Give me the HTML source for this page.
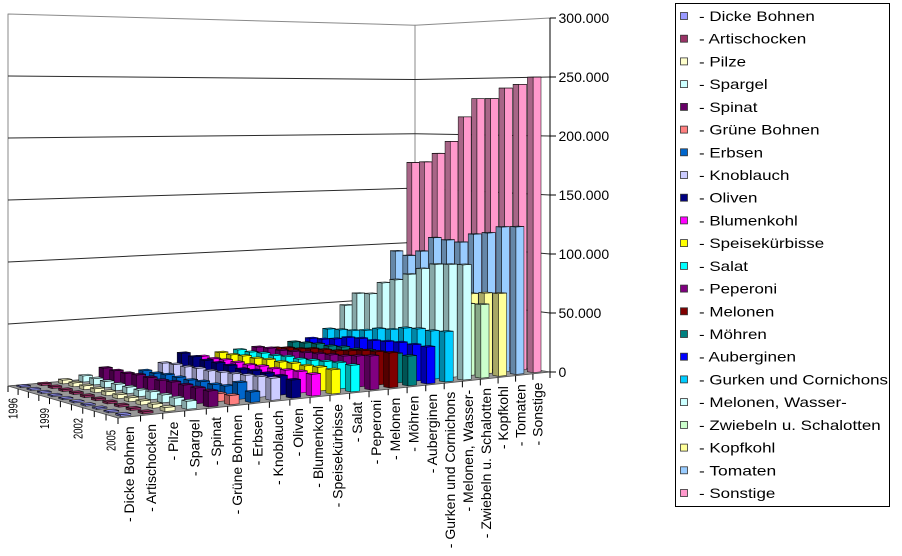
<!DOCTYPE html>
<html><head><meta charset="utf-8">
<style>
html,body{margin:0;padding:0;background:#fff;}
svg{display:block;font-family:"Liberation Sans",Arial,sans-serif;}
</style></head><body>
<svg id="c" width="902" height="556" viewBox="0 0 902 556" xmlns="http://www.w3.org/2000/svg">
<rect x="0" y="0" width="902" height="556" fill="#fff"/>
<g id="walls"></g>
<g id="bars"></g>
<g id="axes"></g>
<g font-size="14" fill="#000">
<text x="558.5" y="23">300.000</text>
<text x="558.5" y="82">250.000</text>
<text x="558.5" y="141">200.000</text>
<text x="558.5" y="200">150.000</text>
<text x="558.5" y="259">100.000</text>
<text x="558.5" y="318">50.000</text>
<text x="558.5" y="377">0</text>
</g>
<g font-size="12.5" fill="#000" text-anchor="end">
<text transform="translate(17.5,398) rotate(-90)" textLength="21" lengthAdjust="spacingAndGlyphs">1996</text>
<text transform="translate(49,408) rotate(-90)" textLength="21" lengthAdjust="spacingAndGlyphs">1999</text>
<text transform="translate(82.5,418) rotate(-90)" textLength="21" lengthAdjust="spacingAndGlyphs">2002</text>
<text transform="translate(115.5,430) rotate(-90)" textLength="21" lengthAdjust="spacingAndGlyphs">2005</text>
</g>
<g font-size="14" fill="#000" text-anchor="end">
<text transform="translate(133.8,426.3) rotate(-90)">- Dicke Bohnen</text>
<text transform="translate(156,423.9) rotate(-90)">- Artischocken</text>
<text transform="translate(178,421.6) rotate(-90)">- Pilze</text>
<text transform="translate(199.5,419.3) rotate(-90)">- Spargel</text>
<text transform="translate(220.8,417) rotate(-90)">- Spinat</text>
<text transform="translate(241.9,414.7) rotate(-90)">- Grüne Bohnen</text>
<text transform="translate(262.5,412.5) rotate(-90)">- Erbsen</text>
<text transform="translate(282.9,410.3) rotate(-90)">- Knoblauch</text>
<text transform="translate(303.2,408.1) rotate(-90)">- Oliven</text>
<text transform="translate(323,406) rotate(-90)">- Blumenkohl</text>
<text transform="translate(342.6,403.9) rotate(-90)">- Speisekürbisse</text>
<text transform="translate(362.1,401.8) rotate(-90)">- Salat</text>
<text transform="translate(381.2,399.8) rotate(-90)">- Peperoni</text>
<text transform="translate(400,397.7) rotate(-90)">- Melonen</text>
<text transform="translate(418.7,395.7) rotate(-90)">- Möhren</text>
<text transform="translate(437,393.8) rotate(-90)">- Auberginen</text>
<text transform="translate(455.1,391.8) rotate(-90)">- Gurken und Cornichons</text>
<text transform="translate(473.1,389.9) rotate(-90)">- Melonen, Wasser-</text>
<text transform="translate(490.8,388) rotate(-90)">- Zwiebeln u. Schalotten</text>
<text transform="translate(508.2,386.1) rotate(-90)">- Kopfkohl</text>
<text transform="translate(525.5,384.2) rotate(-90)">- Tomaten</text>
<text transform="translate(542.5,382.4) rotate(-90)">- Sonstige</text>
</g>
<rect x="675.5" y="3.5" width="214" height="503" fill="#fff" stroke="#000" stroke-width="1"/>
<g stroke="#333" stroke-width="0.8">
<rect x="680.5" y="12.5" width="7" height="7" fill="#9999FF"/>
<rect x="680.5" y="35.2" width="7" height="7" fill="#993366"/>
<rect x="680.5" y="57.9" width="7" height="7" fill="#FFFFCC"/>
<rect x="680.5" y="80.6" width="7" height="7" fill="#CCFFFF"/>
<rect x="680.5" y="103.4" width="7" height="7" fill="#660066"/>
<rect x="680.5" y="126.1" width="7" height="7" fill="#FF8080"/>
<rect x="680.5" y="148.8" width="7" height="7" fill="#0066CC"/>
<rect x="680.5" y="171.5" width="7" height="7" fill="#CCCCFF"/>
<rect x="680.5" y="194.2" width="7" height="7" fill="#000080"/>
<rect x="680.5" y="216.9" width="7" height="7" fill="#FF00FF"/>
<rect x="680.5" y="239.6" width="7" height="7" fill="#FFFF00"/>
<rect x="680.5" y="262.4" width="7" height="7" fill="#00FFFF"/>
<rect x="680.5" y="285.1" width="7" height="7" fill="#800080"/>
<rect x="680.5" y="307.8" width="7" height="7" fill="#800000"/>
<rect x="680.5" y="330.5" width="7" height="7" fill="#008080"/>
<rect x="680.5" y="353.2" width="7" height="7" fill="#0000FF"/>
<rect x="680.5" y="375.9" width="7" height="7" fill="#00CCFF"/>
<rect x="680.5" y="398.6" width="7" height="7" fill="#CCFFFF"/>
<rect x="680.5" y="421.4" width="7" height="7" fill="#CCFFCC"/>
<rect x="680.5" y="444.1" width="7" height="7" fill="#FFFF99"/>
<rect x="680.5" y="466.8" width="7" height="7" fill="#99CCFF"/>
<rect x="680.5" y="489.5" width="7" height="7" fill="#FF99CC"/>
</g>
<g font-size="14" fill="#000">
<text x="699" y="21" textLength="115.8" lengthAdjust="spacingAndGlyphs">- Dicke Bohnen</text>
<text x="699" y="43.7" textLength="107.3" lengthAdjust="spacingAndGlyphs">- Artischocken</text>
<text x="699" y="66.4" textLength="47.1" lengthAdjust="spacingAndGlyphs">- Pilze</text>
<text x="699" y="89.1" textLength="68.7" lengthAdjust="spacingAndGlyphs">- Spargel</text>
<text x="699" y="111.9" textLength="58.4" lengthAdjust="spacingAndGlyphs">- Spinat</text>
<text x="699" y="134.6" textLength="120.5" lengthAdjust="spacingAndGlyphs">- Grüne Bohnen</text>
<text x="699" y="157.3" textLength="64" lengthAdjust="spacingAndGlyphs">- Erbsen</text>
<text x="699" y="180" textLength="90.4" lengthAdjust="spacingAndGlyphs">- Knoblauch</text>
<text x="699" y="202.7" textLength="58.4" lengthAdjust="spacingAndGlyphs">- Oliven</text>
<text x="699" y="225.4" textLength="98.8" lengthAdjust="spacingAndGlyphs">- Blumenkohl</text>
<text x="699" y="248.1" textLength="125.2" lengthAdjust="spacingAndGlyphs">- Speisekürbisse</text>
<text x="699" y="270.9" textLength="49" lengthAdjust="spacingAndGlyphs">- Salat</text>
<text x="699" y="293.6" textLength="78.1" lengthAdjust="spacingAndGlyphs">- Peperoni</text>
<text x="699" y="316.3" textLength="75.3" lengthAdjust="spacingAndGlyphs">- Melonen</text>
<text x="699" y="339" textLength="67.8" lengthAdjust="spacingAndGlyphs">- Möhren</text>
<text x="699" y="361.7" textLength="97" lengthAdjust="spacingAndGlyphs">- Auberginen</text>
<text x="699" y="384.4" textLength="189" lengthAdjust="spacingAndGlyphs">- Gurken und Cornichons</text>
<text x="699" y="407.1" textLength="147.8" lengthAdjust="spacingAndGlyphs">- Melonen, Wasser-</text>
<text x="699" y="429.9" textLength="181.7" lengthAdjust="spacingAndGlyphs">- Zwiebeln u. Schalotten</text>
<text x="699" y="452.6" textLength="76.3" lengthAdjust="spacingAndGlyphs">- Kopfkohl</text>
<text x="699" y="475.3" textLength="77.2" lengthAdjust="spacingAndGlyphs">- Tomaten</text>
<text x="699" y="498" textLength="76.3" lengthAdjust="spacingAndGlyphs">- Sonstige</text>
</g>
</svg>
<script>
(function(){
var NS="http://www.w3.org/2000/svg";
var WBL=1/62, WBR=1/54.3, WFR=1/59, WFL=WBL+WFR-WBR;
var XBL=8*WBL, XBR=415*WBR, XFR=550*WFR, XFL=118*WFL;
var YBL=386*WBL, YBR=351*WBR, YFR=372*WFR, YFL=418*WFL;
function bl(a,b,p,q,r,s){return (1-a)*(1-b)*p+a*(1-b)*q+a*b*r+(1-a)*b*s;}
function P(u,v,h){var a=u/22,b=v/10;var W=bl(a,b,WBL,WBR,WFR,WFL);var X=bl(a,b,XBL,XBR,XFR,XFL);var Y=bl(a,b,YBL,YBR,YFR,YFL);return [X/W,(Y-h/50)/W];}
function pstr(pts){return pts.map(function(p){return p[0].toFixed(2)+","+p[1].toFixed(2);}).join(" ");}
function poly(g,pts,fill,stroke,sw){var e=document.createElementNS(NS,"polygon");e.setAttribute("points",pstr(pts));e.setAttribute("fill",fill);if(stroke){e.setAttribute("stroke",stroke);e.setAttribute("stroke-width",sw);e.setAttribute("stroke-linejoin","round");}g.appendChild(e);}
function line(g,p,q,stroke,sw){var e=document.createElementNS(NS,"line");e.setAttribute("x1",p[0].toFixed(2));e.setAttribute("y1",p[1].toFixed(2));e.setAttribute("x2",q[0].toFixed(2));e.setAttribute("y2",q[1].toFixed(2));e.setAttribute("stroke",stroke);e.setAttribute("stroke-width",sw);g.appendChild(e);}
var walls=document.getElementById("walls"),bars=document.getElementById("bars"),axes=document.getElementById("axes");
poly(walls,[P(0,0,0),P(22,0,0),P(22,0,300),P(0,0,300)],"#fff","#8a8a8a",1);
poly(walls,[P(22,0,0),P(22,10,0),P(22,10,300),P(22,0,300)],"#fff","#8a8a8a",1);
for(var h=50;h<300;h+=50){line(walls,P(0,0,h),P(22,0,h),"#2a2a2a",1);line(walls,P(22,0,h),P(22,10,h),"#2a2a2a",1);}
poly(walls,[P(0,0,0),P(22,0,0),P(22,10,0),P(0,10,0)],"#999999","#4a4a4a",0.8);
var i,j,p;
for(i=0;i<=22;i++){p=P(i,10,0);line(axes,p,[p[0],p[1]+6],"#000",1);}
for(j=0;j<=10;j++){p=P(0,j,0);line(axes,p,[p[0],p[1]+6],"#000",1);}
line(axes,P(22,10,0),P(22,10,300),"#000",1);
for(h=0;h<=300;h+=50){p=P(22,10,h);line(axes,p,[p[0]+6,p[1]],"#000",1);}
var cols=["#9999FF","#993366","#FFFFCC","#CCFFFF","#660066","#FF8080","#0066CC","#CCCCFF","#000080","#FF00FF","#FFFF00","#00FFFF","#800080","#800000","#008080","#0000FF","#00CCFF","#CCFFFF","#CCFFCC","#FFFF99","#99CCFF","#FF99CC"];
var D=[
[1,1,1,1,1,1,1,1,1,1.2],
[1.5,1.5,1.5,1.5,1.5,1.5,1.5,1.5,1.5,1.5],
[3,3,3,3,3,3,3,3,3,3],
[5,5,5,5,5,5,6,6,6,6],
[10,10,10,11,11,11,12,12,12,12],
[4,4,5,5,5,5,6,6,6,7],
[5,5,6,6,6,7,7,8,13,8],
[10,11,11,12,12,13,14,15,16,17],
[17,16,15,15,15,14,15,15,15,14],
[13,13,14,14,14,15,15,16,17,17],
[15,15,16,16,17,17,18,18,19,19],
[16,16,17,17,18,18,19,20,21,21],
[17,18,18,19,20,21,22,23,25,27],
[15,17,18,20,21,22,24,26,27,28],
[19,20,21,21,22,22,23,23,24,24],
[21,22,24,27,28,28,29,30,30,30],
[28,29,30,32,35,36,39,40,40,41],
[48,60,61,72,76,82,88,93,94,95],
[35,38,40,42,45,48,50,53,60,61],
[50,52,54,56,58,60,63,66,68,69],
[94,91,96,109,108,107,115,117,123,124],
[174,175,183,194,216,232,232,241,244,250]];
function shade(c,f){var r=parseInt(c.substr(1,2),16),g=parseInt(c.substr(3,2),16),b=parseInt(c.substr(5,2),16);return "rgb("+Math.round(r*f)+","+Math.round(g*f)+","+Math.round(b*f)+")";}
var sk="rgba(0,0,0,0.8)",sw=0.6;
for(i=21;i>=0;i--){
 var c=cols[i],cs=shade(c,0.66),ct=shade(c,0.86);
 for(j=0;j<10;j++){
  var hh=D[i][j];
  var u0=i+0.27,u1=i+0.73,v0=j+0.3,v1=j+0.7;
  poly(bars,[P(u0,v0,0),P(u0,v1,0),P(u0,v1,hh),P(u0,v0,hh)],cs,sk,sw);
  poly(bars,[P(u0,v1,0),P(u1,v1,0),P(u1,v1,hh),P(u0,v1,hh)],c,sk,sw);
  poly(bars,[P(u0,v0,hh),P(u1,v0,hh),P(u1,v1,hh),P(u0,v1,hh)],ct,sk,sw);
 }
}
})();
</script>
</body></html>
